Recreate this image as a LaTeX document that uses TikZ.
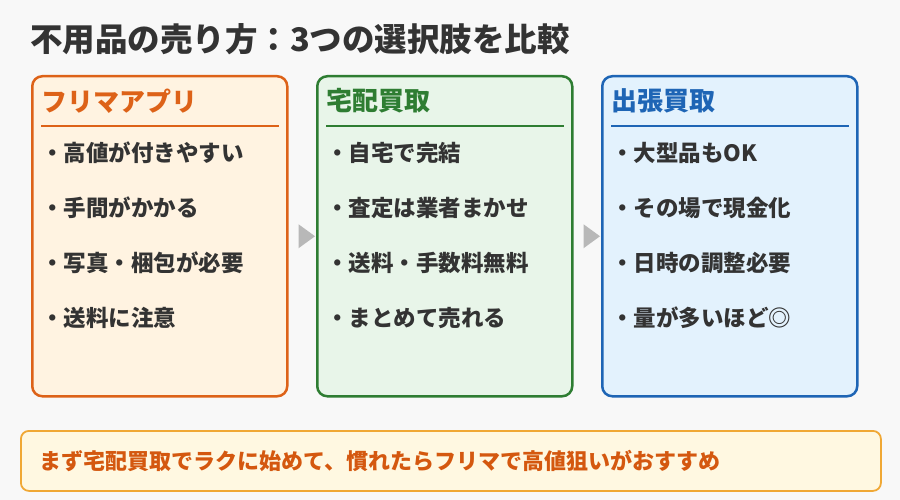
\documentclass[tikz,border=0pt]{standalone}
\usepackage{fontspec}
\setmainfont{Noto Sans CJK JP}
\usetikzlibrary{positioning, calc}

\definecolor{bgcol}{HTML}{F8F8F8}
\definecolor{txtcol}{HTML}{333333}
\definecolor{orline}{HTML}{DD6218}
\definecolor{orfill}{HTML}{FFF3E1}
\definecolor{grline}{HTML}{2E7D32}
\definecolor{grfill}{HTML}{E8F5E9}
\definecolor{blline}{HTML}{1E65B5}
\definecolor{blfill}{HTML}{E3F2FD}
\definecolor{noteline}{HTML}{F0A835}
\definecolor{notefill}{HTML}{FFF8E1}
\definecolor{notetext}{HTML}{D4580F}
\definecolor{arrowgray}{HTML}{B8B8B8}

\begin{document}
\begin{tikzpicture}[x=1pt, y=-1pt,
    panel/.style={draw=#1line, fill=#1fill, line width=2.5pt, rounded corners=10pt,
        minimum width=255pt, minimum height=320pt, anchor=north west, inner sep=0pt},
    head/.style={anchor=west, inner sep=0pt, font=\fontsize{26}{30}\selectfont\bfseries},
    item/.style={anchor=west, inner sep=0pt, text=txtcol, font=\fontsize{22.5}{26}\selectfont\bfseries},
    notebox/.style={draw=noteline, fill=notefill, line width=1.8pt, rounded corners=8pt,
        minimum width=860pt, minimum height=60pt, anchor=north west, inner sep=0pt}]

    % 0. Pozadí
    \fill[bgcol] (0,0) rectangle (900,500);
    \useasboundingbox (0,0) rectangle (900,500);

    % 1. Nadpis
    \node[anchor=west, inner sep=0pt, text=txtcol, font=\fontsize{32.5}{36}\selectfont\bfseries]
        (title) at (30,39) {不用品の売り方：3つの選択肢を比較};

    % 2. Tři panely s nadpisem a čarou
    \foreach \nm/\cl/\x/\ttl in {fleama/or/31/フリマアプリ, takuhai/gr/316/宅配買取, shutcho/bl/601/出張買取} {
        \node[panel=\cl] (\nm) at (\x,75) {};
        \node[head, text=\cl line] (\nm-head) at ([shift={(10,26)}]\nm.north west) {\ttl};
        \draw[\cl line, line width=1.5pt] ([shift={(10,51)}]\nm.north west) -- ([shift={(-10,51)}]\nm.north east);
    }

    % 3. Položky
    \foreach \nm/\a/\b/\c/\d in {
        fleama/高値が付きやすい/手間がかかる/写真・梱包が必要/送料に注意,
        takuhai/自宅で完結/査定は業者まかせ/送料・手数料無料/まとめて売れる,
        shutcho/大型品もOK/その場で現金化/日時の調整必要/量が多いほど◎} {
        \node[item] (\nm-a) at ([shift={(10,78)}]\nm.north west) {・\a};
        \node[item] (\nm-b) at ([shift={(10,133)}]\nm.north west) {・\b};
        \node[item] (\nm-c) at ([shift={(10,188)}]\nm.north west) {・\c};
        \node[item] (\nm-d) at ([shift={(10,243)}]\nm.north west) {・\d};
    }

    % 4. Šipky mezi panely
    \fill[arrowgray] ([shift={(10,-12)}]fleama.east) -- ([shift={(-1,0)}]takuhai.west) -- ([shift={(10,12)}]fleama.east) -- cycle;
    \fill[arrowgray] ([shift={(10,-12)}]takuhai.east) -- ([shift={(-1,0)}]shutcho.west) -- ([shift={(10,12)}]takuhai.east) -- cycle;

    % 5. Doporučení dole
    \node[notebox] (note) at (20,430) {};
    \node[anchor=west, inner sep=0pt, text=notetext, font=\fontsize{22}{26}\selectfont\bfseries]
        (note-text) at ([xshift=19pt]note.west) {まず宅配買取でラクに始めて、慣れたらフリマで高値狙いがおすすめ};

\end{tikzpicture}
\end{document}
